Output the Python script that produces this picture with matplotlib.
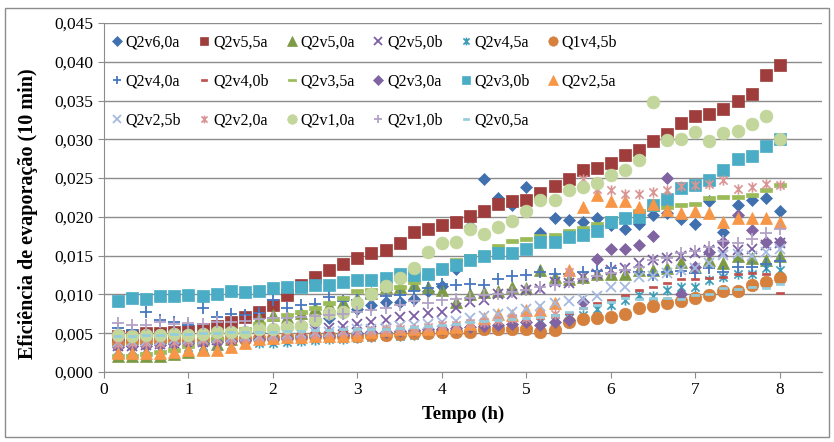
import numpy as np
import matplotlib
matplotlib.use('Agg')
import matplotlib.pyplot as plt
from matplotlib.path import Path
from matplotlib.patches import Rectangle
from matplotlib.ticker import FuncFormatter, MultipleLocator

plt.rcParams['font.family'] = ['Liberation Serif', 'DejaVu Serif']

# time axis: one reading every 10 min
tempo = np.arange(1, 49) / 6

# evaporation efficiency, values in units of 0.001
q2v6_0a = [3.5, 3.4, 3.6, 3.7, 3.8, 4.0, 4.2, 4.5, 4.7, 5.0,
           5.2, 5.5, 5.8, 6.2, 6.6, 7.0, 7.6, 8.1, 8.7, 9.0,
           9.0, 9.4, 10.5, 11.1, 13.3, 18.8, 24.9, 22.5, 21.5, 23.9,
           17.9, 19.8, 19.6, 19.3, 19.9, 19.0, 18.5, 19.1, 20.2, 20.5,
           19.7, 19.1, 22.0, 18.1, 21.5, 22.2, 22.4, 20.7]
q2v5_5a = [4.6, 4.8, 5.0, 5.0, 5.2, 5.3, 5.5, 5.9, 6.5, 7.1,
           7.8, 8.6, 9.9, 11.2, 12.3, 13.2, 13.9, 14.7, 15.4, 15.7,
           16.6, 18.1, 18.4, 19.0, 19.4, 20.1, 20.8, 21.7, 22.1, 22.2,
           23.1, 24.0, 24.9, 26.0, 26.3, 27.0, 28.0, 28.6, 29.8, 30.7,
           32.1, 33.0, 33.3, 33.9, 35.0, 35.8, 38.3, 39.6]
q2v5_0a = [2.0, 2.0, 2.0, 2.1, 2.3, 2.6, 3.0, 3.6, 4.3, 5.3,
           6.9, 7.4, 7.1, 7.6, 8.2, 8.6, 9.0, 9.5, 10.2, 11.0,
           11.0, 11.4, 11.0, 10.6, 9.0, 10.1, 10.3, 10.4, 11.0, 10.8,
           13.2, 12.3, 12.0, 12.3, 12.7, 12.7, 12.7, 13.2, 13.2, 13.4,
           14.2, 13.6, 14.4, 14.0, 14.9, 14.7, 14.4, 14.9]
q2v5_0b = [3.3, 3.4, 3.5, 3.6, 3.7, 3.8, 3.9, 4.1, 4.3, 4.5,
           4.7, 4.9, 5.1, 5.3, 5.5, 5.7, 5.9, 6.2, 6.5, 6.7,
           7.1, 7.2, 7.6, 7.8, 8.3, 9.0, 9.3, 10.0, 10.1, 10.6,
           10.7, 11.6, 11.5, 12.3, 12.7, 13.2, 13.4, 14.0, 14.5, 14.7,
           15.0, 15.3, 15.7, 15.5, 15.7, 15.9, 16.4, 16.6]
q2v4_5a = [2.8, 2.9, 3.0, 3.0, 3.1, 3.2, 3.3, 3.4, 3.5, 3.6,
           3.7, 3.8, 3.9, 4.0, 4.1, 4.2, 4.3, 4.4, 4.5, 4.6,
           4.7, 4.8, 4.9, 5.0, 5.2, 5.4, 5.6, 5.8, 6.0, 6.2,
           6.4, 6.6, 6.9, 7.3, 8.1, 8.6, 9.3, 9.9, 9.8, 10.6,
           11.0, 10.9, 11.9, 12.3, 12.6, 12.7, 13.4, 13.2]
q1v4_5b = [3.8, 3.9, 4.0, 4.0, 4.1, 4.1, 4.2, 4.2, 4.3, 4.3,
           4.4, 4.4, 4.5, 4.5, 4.6, 4.6, 4.7, 4.7, 4.8, 4.8,
           4.9, 5.0, 5.0, 5.1, 5.1, 5.2, 5.5, 5.6, 5.5, 5.5,
           5.1, 5.4, 6.4, 6.8, 6.9, 7.1, 7.5, 8.3, 8.5, 8.9,
           9.1, 9.6, 9.9, 10.4, 10.4, 11.2, 11.6, 12.1]
q2v4_0a = [5.7, 5.4, 7.8, 6.7, 6.5, 6.0, 8.3, 7.1, 7.5, 7.3,
           7.6, 9.3, 8.2, 8.6, 8.8, 9.7, 9.1, 9.3, 9.6, 9.8,
           9.9, 10.4, 10.8, 11.3, 11.2, 11.4, 11.2, 12.0, 12.4, 12.5,
           12.9, 12.7, 12.6, 12.9, 13.0, 13.4, 13.1, 12.9, 12.5, 12.9,
           13.0, 12.8, 13.4, 12.9, 13.6, 13.6, 13.9, 14.3]
q2v4_0b = [4.0, 4.1, 4.2, 4.3, 4.3, 4.4, 4.5, 4.6, 4.7, 4.7,
           4.8, 4.9, 5.0, 5.0, 5.1, 5.2, 5.3, 5.3, 5.4, 5.5,
           5.5, 5.6, 5.7, 5.8, 5.8, 5.9, 6.0, 6.0, 6.2, 6.5,
           6.9, 7.3, 7.6, 8.2, 8.9, 9.3, 9.9, 10.6, 11.0, 11.5,
           12.0, 12.0, 12.1, 12.2, 12.7, 12.8, 12.7, 10.2]
q2v3_5a = [2.0, 2.1, 2.3, 2.6, 2.9, 3.3, 3.8, 4.3, 5.0, 5.6,
           6.2, 6.8, 7.3, 7.8, 8.2, 8.9, 9.5, 10.4, 10.6, 10.8,
           11.0, 11.6, 12.2, 13.0, 14.4, 15.0, 15.4, 16.2, 16.9, 17.1,
           17.5, 17.7, 18.2, 18.6, 19.1, 19.8, 20.3, 20.8, 21.0, 21.3,
           21.5, 21.7, 22.4, 22.6, 22.6, 22.8, 23.5, 24.1]
q2v3_0a = [3.2, 3.3, 3.4, 3.5, 3.6, 3.7, 3.8, 3.9, 4.0, 4.1,
           4.2, 4.3, 4.4, 4.5, 4.6, 4.7, 4.8, 5.0, 5.1, 5.2,
           5.3, 5.4, 5.5, 5.6, 5.7, 5.8, 5.9, 6.0, 6.2, 6.5,
           6.0, 6.5, 6.7, 9.0, 14.6, 15.8, 15.8, 16.4, 17.6, 25.0,
           10.1, 13.5, 15.5, 16.8, 20.3, 18.3, 16.7, 16.8]
q2v3_0b = [9.2, 9.5, 9.4, 9.8, 9.8, 9.9, 9.8, 10.1, 10.4, 10.3,
           10.4, 10.8, 10.9, 11.0, 11.2, 11.2, 11.6, 11.9, 11.9, 12.1,
           12.6, 12.5, 12.7, 13.3, 13.8, 14.4, 14.9, 15.4, 15.3, 15.9,
           16.7, 16.8, 17.4, 17.7, 18.2, 19.4, 19.8, 20.0, 21.5, 22.3,
           23.7, 24.1, 24.8, 26.0, 27.5, 27.8, 29.1, 30.0]
q2v2_5a = [2.4, 2.4, 2.4, 2.5, 2.6, 2.8, 2.8, 2.8, 3.2, 3.8,
           4.2, 4.4, 4.5, 4.5, 4.6, 4.7, 4.6, 4.8, 5.2, 5.4,
           5.5, 5.6, 5.6, 5.7, 5.8, 6.2, 7.0, 7.5, 7.3, 8.0,
           8.0, 8.9, 13.1, 21.3, 22.8, 22.0, 22.0, 21.3, 21.7, 20.9,
           20.5, 20.7, 20.5, 19.3, 19.8, 19.8, 19.8, 19.3]
q2v2_5b = [3.9, 4.0, 4.0, 4.1, 4.2, 4.2, 4.3, 4.4, 4.5, 4.6,
           4.7, 4.8, 4.9, 5.0, 5.1, 5.2, 5.3, 5.5, 5.6, 5.7,
           5.9, 6.0, 6.2, 6.4, 6.6, 6.9, 7.2, 7.5, 7.8, 8.1,
           8.5, 8.9, 9.2, 9.4, 9.8, 11.0, 11.0, 12.3, 12.4, 12.8,
           13.2, 13.4, 14.0, 15.1, 15.2, 15.0, 15.5, 15.9]
q2v2_0a = [3.6, 3.7, 3.8, 3.8, 3.9, 4.0, 4.1, 4.2, 4.3, 4.4,
           4.5, 4.6, 4.7, 4.8, 4.9, 5.0, 5.1, 5.2, 5.3, 5.4,
           5.5, 5.6, 5.8, 6.0, 6.1, 6.3, 6.5, 6.7, 6.9, 7.0,
           7.3, 7.5, 12.9, 24.9, 23.6, 23.5, 23.0, 23.0, 23.2, 23.5,
           24.0, 24.1, 24.2, 24.7, 23.6, 23.8, 24.2, 24.1]
q2v1_0a = [4.8, 4.6, 4.8, 4.8, 4.9, 4.8, 4.9, 5.1, 5.2, 5.2,
           5.5, 5.5, 5.8, 5.9, 6.7, 7.6, 7.8, 8.9, 10.1, 11.1,
           12.1, 13.4, 15.5, 16.6, 16.7, 18.4, 17.8, 18.7, 19.5, 20.8,
           22.2, 22.2, 23.5, 23.8, 24.4, 25.4, 26.1, 27.3, 34.8, 29.9,
           30.0, 31.0, 29.8, 30.8, 31.1, 32.0, 33.0, 30.1]
q2v1_0b = [6.3, 6.1, 6.0, 6.4, 6.2, 6.3, 6.2, 6.4, 6.5, 6.6,
           6.8, 6.9, 7.0, 7.1, 7.2, 7.3, 7.5, 7.7, 8.0, 8.3,
           8.6, 9.1, 8.9, 9.3, 9.4, 9.6, 9.9, 10.1, 10.3, 10.6,
           10.9, 11.2, 11.6, 12.0, 12.4, 12.8, 13.2, 13.6, 14.4, 14.7,
           15.3, 15.6, 16.1, 16.9, 16.6, 17.2, 17.9, 18.5]
q2v0_5a = [4.7, 4.7, 4.8, 4.8, 4.9, 4.9, 5.0, 5.0, 5.1, 5.1,
           5.2, 5.2, 5.3, 5.3, 5.4, 5.4, 5.5, 5.5, 5.6, 5.6,
           5.7, 5.8, 5.9, 6.0, 6.2, 6.4, 6.6, 6.7, 6.8, 7.0,
           7.1, 7.4, 7.8, 8.3, 8.7, 9.0, 9.5, 9.4, 9.6, 9.6,
           9.4, 9.9, 10.1, 10.8, 10.7, 11.0, 10.8, 11.4]

nomes = ['Q2v6,0a', 'Q2v5,5a', 'Q2v5,0a', 'Q2v5,0b', 'Q2v4,5a', 'Q1v4,5b',
         'Q2v4,0a', 'Q2v4,0b', 'Q2v3,5a', 'Q2v3,0a', 'Q2v3,0b', 'Q2v2,5a',
         'Q2v2,5b', 'Q2v2,0a', 'Q2v1,0a', 'Q2v1,0b', 'Q2v0,5a']
dados = [q2v6_0a, q2v5_5a, q2v5_0a, q2v5_0b, q2v4_5a, q1v4_5b,
         q2v4_0a, q2v4_0b, q2v3_5a, q2v3_0a, q2v3_0b, q2v2_5a,
         q2v2_5b, q2v2_0a, q2v1_0a, q2v1_0b, q2v0_5a]

# excel-like markers
M, L, C = Path.MOVETO, Path.LINETO, Path.CLOSEPOLY
estrela = Path([(-1, -1), (1, 1), (-1, 1), (1, -1), (0, -1.25), (0, 1.25)],
               [M, L, M, L, M, L])
traco = Path([(-1, -0.4), (1, -0.4), (1, 0.4), (-1, 0.4), (-1, -0.4)],
             [M, L, L, L, C])
traco_longo = Path([(-1, -0.28), (1, -0.28), (1, 0.28), (-1, 0.28), (-1, -0.28)],
                   [M, L, L, L, C])

# (marker, color, size, line width)
estilos = [
    ('D', '#4170AE', 6.6, 0.5),
    ('s', '#9E3D3B', 8.6, 0.5),
    ('^', '#7D9A45', 8.8, 0.5),
    ('x', '#7B5EA3', 7.4, 1.3),
    (estrela, '#3E9DB7', 7.4, 1.2),
    ('o', '#D5803D', 9.0, 0.5),
    ('+', '#4677C0', 8.6, 1.3),
    (traco, '#C0504D', 5.2, 0.5),
    (traco_longo, '#9BBB59', 8.6, 0.5),
    ('D', '#8064A2', 6.6, 0.5),
    ('s', '#4BACC6', 8.6, 0.5),
    ('^', '#F79646', 8.8, 0.5),
    ('x', '#A5BAE0', 7.4, 1.3),
    (estrela, '#D99694', 7.4, 1.2),
    ('o', '#C3D69B', 9.2, 0.5),
    ('+', '#B3A2C7', 8.6, 1.3),
    (traco, '#93CDDD', 5.2, 0.5),
]

fig = plt.figure(figsize=(8.34, 4.42), dpi=100)
ax = fig.add_axes([104/834, 70/442, 718/834, 349/442])

linhas = []
for nome, y, (mk, cor, ms, lw) in zip(nomes, dados, estilos):
    ln, = ax.plot(tempo, np.array(y) / 1000, linestyle='none', marker=mk,
                  markersize=ms, color=cor, markerfacecolor=cor,
                  markeredgecolor=cor, markeredgewidth=lw, label=nome)
    linhas.append(ln)

ax.set_xlim(0, 8.5)
ax.set_ylim(0, 0.045)
ax.xaxis.set_major_locator(MultipleLocator(1))
ax.yaxis.set_major_locator(MultipleLocator(0.005))
ax.yaxis.set_major_formatter(FuncFormatter(lambda v, p: f'{v:.3f}'.replace('.', ',')))
ax.grid(axis='y', color='#8c8c8c', linewidth=1.0)
ax.set_axisbelow(True)
for s in ['top', 'right']:
    ax.spines[s].set_visible(False)
for s in ['left', 'bottom']:
    ax.spines[s].set_color('#8c8c8c')
ax.tick_params(direction='out', length=4, color='#8c8c8c', labelsize=12.5)

ax.set_xlabel('Tempo (h)', fontsize=13.5, fontweight='bold')
ax.set_ylabel('Eficiência de evaporação (10 min)', fontsize=14.5, fontweight='bold')
ax.xaxis.set_label_coords(0.5, -0.097)
ax.yaxis.set_label_coords(-0.092, 0.455)

# legend filled row by row like excel
ordem = [r * 6 + c for c in range(6) for r in range(3) if r * 6 + c < 17]
ax.legend([linhas[i] for i in ordem], [nomes[i] for i in ordem],
          ncol=6, loc='upper left', bbox_to_anchor=(0.0, 0.985),
          frameon=False, fontsize=11.5, markerscale=0.75,
          handlelength=0.8, handletextpad=0.15, columnspacing=1.05,
          labelspacing=1.45, borderaxespad=0.0)

fig.patches.append(Rectangle((5/834, 5/442), 824/834, 429/442, transform=fig.transFigure,
                             fill=False, edgecolor='#8c8c8c', linewidth=1.0))

fig.savefig('out.png', dpi=100)
